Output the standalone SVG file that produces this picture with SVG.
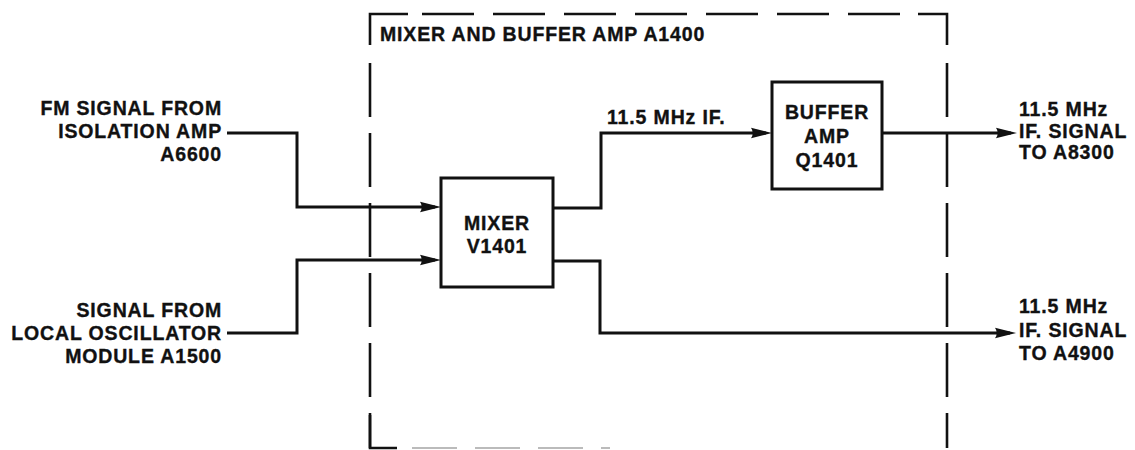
<svg xmlns="http://www.w3.org/2000/svg" width="1135" height="450" viewBox="0 0 1135 450">
<defs>
<style>
text{font-family:"Liberation Sans",Arial,sans-serif;font-weight:bold;font-size:19.5px;letter-spacing:0.85px;fill:#111;stroke:#111;stroke-width:0.35}
.w{fill:none;stroke:#111;stroke-width:3;stroke-linejoin:miter}
.box{fill:#fff;stroke:#111;stroke-width:3}
.edge{fill:none;stroke:#111;stroke-width:2.6}
.dash{fill:none;stroke:#111;stroke-width:2.6;stroke-dasharray:54 16}
.dashh{fill:none;stroke:#111;stroke-width:2.6;stroke-dasharray:52 19}
.faint{fill:none;stroke:#bbb;stroke-width:2;stroke-dasharray:45 18}
.r{text-anchor:end}
.m{text-anchor:middle}
</style>
<marker id="ah" viewBox="0 0 21 12" refX="15" refY="6" markerWidth="21" markerHeight="12" markerUnits="userSpaceOnUse" orient="auto">
<path d="M0,0.8 L21,6 L0,11.2 Q3.5,6 0,0.8 Z" fill="#111"/>
</marker>
</defs>
<g id="module-boundary">
<path class="edge" d="M370,45 V14 H408"/>
<path class="dashh" d="M422,14 H902"/>
<path class="edge" d="M918,14 H947 V45"/>
<path class="dash" d="M370,63 V448"/>
<path class="dash" d="M947,63 V448"/>
<path class="edge" d="M370,415 V448 H397"/>
<path class="faint" d="M412,448 H610"/>
<text x="380" y="41">MIXER AND BUFFER AMP A1400</text>
</g>
<g id="connectors">
<path class="w" d="M227,133 H297 V207 H435" marker-end="url(#ah)"/>
<path class="w" d="M227,333 H297 V260 H435" marker-end="url(#ah)"/>
<path class="w" d="M553,208 H601 V133 H766" marker-end="url(#ah)"/>
<path class="w" d="M882,133 H1011" marker-end="url(#ah)"/>
<path class="w" d="M553,261 H600 V333 H1010" marker-end="url(#ah)"/>
<text x="607" y="124">11.5 MHz IF.</text>
</g>
<g id="input-fm">
<text class="r" x="222" y="115">FM SIGNAL FROM</text>
<text class="r" x="222" y="138">ISOLATION AMP</text>
<text class="r" x="222" y="161">A6600</text>
</g>
<g id="input-lo">
<text class="r" x="222" y="317">SIGNAL FROM</text>
<text class="r" x="222" y="340">LOCAL OSCILLATOR</text>
<text class="r" x="222" y="363">MODULE A1500</text>
</g>
<g id="mixer">
<rect class="box" x="441" y="178" width="112" height="109"/>
<text class="m" x="497" y="230">MIXER</text>
<text class="m" x="497" y="253">V1401</text>
</g>
<g id="buffer-amp">
<rect class="box" x="772" y="82" width="110" height="107"/>
<text class="m" x="827" y="119">BUFFER</text>
<text class="m" x="827" y="143">AMP</text>
<text class="m" x="827" y="167">Q1401</text>
</g>
<g id="output-a8300">
<text x="1019" y="116">11.5 MHz</text>
<text x="1019" y="138">IF. SIGNAL</text>
<text x="1019" y="159">TO A8300</text>
</g>
<g id="output-a4900">
<text x="1019" y="313">11.5 MHz</text>
<text x="1019" y="337">IF. SIGNAL</text>
<text x="1019" y="360">TO A4900</text>
</g>
</svg>
